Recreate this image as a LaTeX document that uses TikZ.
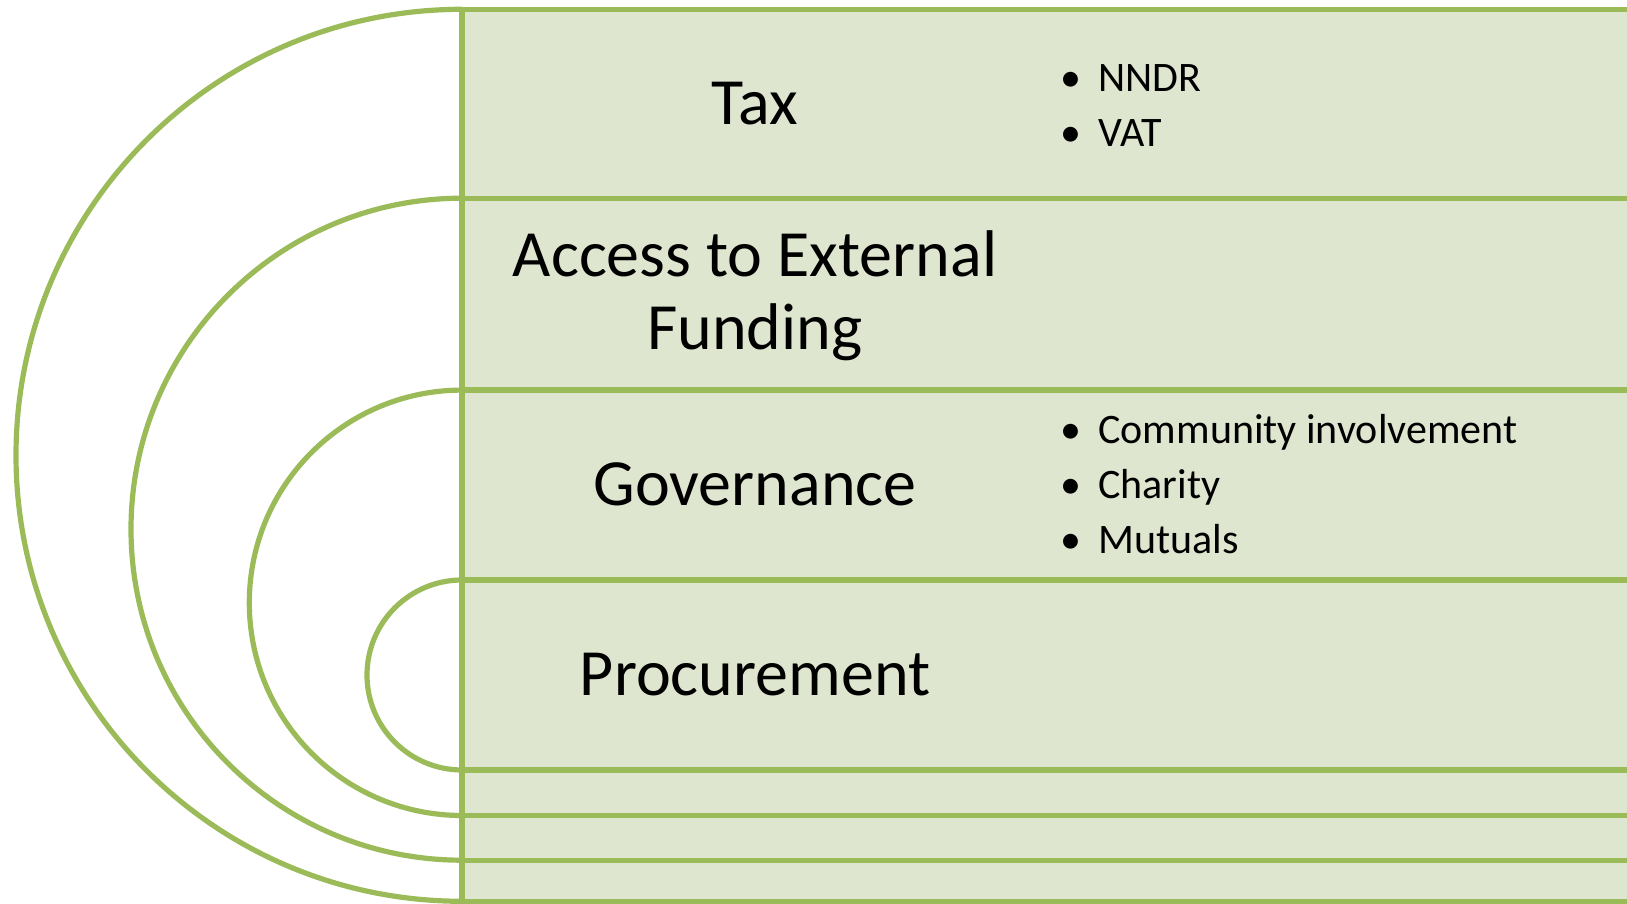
\documentclass[tikz,border=0pt]{standalone}
\usepackage{fontspec}
\setmainfont{Carlito}
\definecolor{bandline}{HTML}{9BBB59}
\definecolor{bandfill}{HTML}{DEE6D0}
\newcommand{\bul}{\makebox[18.75pt][l]{\textbullet}}
\begin{document}
\begin{tikzpicture}[x=0.5pt, y=0.5pt,
        band/.style={draw=bandline, fill=bandfill, line width=2.6pt},
        ring/.style={draw=bandline, line width=2.6pt},
        title/.style={inner sep=0pt, anchor=base, align=center, font=\fontsize{33}{36.65}\selectfont},
        items/.style={inner sep=0pt, anchor=base west, align=left, font=\fontsize{21}{27.5}\selectfont}]
            \clip (0,0) rectangle (1627,904);
            \draw[band] (462,2.7) rectangle (1700,894.7);
            \draw[ring] (462,894.7) arc[start angle=90, end angle=270, radius=446];
            \draw[band] (462,43.8) rectangle (1700,705.8);
            \draw[ring] (462,705.8) arc[start angle=90, end angle=270, radius=331];
            \draw[band] (462,88.5) rectangle (1700,513.9);
            \draw[ring] (462,513.9) arc[start angle=90, end angle=270, radius=212.7];
            \draw[band] (462,134) rectangle (1700,324);
            \draw[ring] (462,324) arc[start angle=90, end angle=270, radius=95];
            \node[title] (tax) at (755,779.5) {Tax};
            \node[title] (funding) at (755,554) {Access to External\\Funding};
            \node[title] (governance) at (755,398) {Governance};
            \node[title] (procurement) at (755,208.5) {Procurement};
            \node[items] (taxitems) at (1060.5,757.7) {\bul NNDR\\\bul VAT};
            \node[items] (govitems) at (1060.5,350) {\bul Community involvement\\\bul Charity\\\bul Mutuals};
        \end{tikzpicture}
\end{document}
